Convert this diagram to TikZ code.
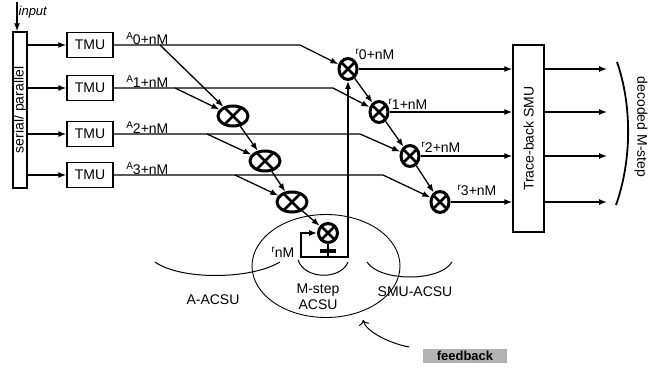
\documentclass[tikz,border=0pt]{standalone}
\usepackage{fontspec}
\setmainfont{Liberation Sans}
\usetikzlibrary{shapes.geometric,arrows.meta,calc}
\newcommand{\sublab}[2]{\raisebox{5pt}{\fontsize{10}{10}\selectfont #1}#2}

\begin{document}
\begin{tikzpicture}[x=1pt, y=-1pt, font=\fontsize{14}{16}\selectfont, line width=1.3pt,
  arr/.style={-{Latex[length=8pt,width=6pt]}},
  unit/.style={draw, inner sep=0pt},
  mult/.style={ellipse, draw, line width=3pt, inner sep=0pt, minimum width=30pt, minimum height=20pt,
    path picture={\draw[line width=2.6pt] (path picture bounding box.center) +(-10,-10) -- +(10,10)
      (path picture bounding box.center) +(-10,10) -- +(10,-10);}},
  rmult/.style={mult, minimum width=18pt, minimum height=21pt}]
\useasboundingbox (0,0) rectangle (659,369);

% ACSU regions
\node[draw, ellipse, line width=0.9pt, minimum width=148pt, minimum height=103pt] (acsu) at (326,266) {};
\draw[line width=1pt] (155,262) .. controls (180,280) and (250,280) .. (280,262);
\draw[line width=1pt] (298,260) .. controls (305,280) and (341,280) .. (348,262);
\draw[line width=1pt] (367,262) .. controls (380,282) and (440,282) .. (452,262);
\node (laacsu) at (213,300) {A-ACSU};
\node[align=center, font=\fontsize{14}{16}\selectfont] (lmacsu) at (318,297) {M-step\\ACSU};
\node (lsacsu) at (415,292) {SMU-ACSU};

% input side
\node[unit, minimum width=14pt, minimum height=156pt] (sp) at (20,110) {\rotatebox{90}{serial/ parallel}};
\node[font=\fontsize{13}{15}\selectfont\itshape, anchor=west, inner sep=0pt] (inp) at (18,12) {input};
\coordinate (inx) at (17,2);
\draw[arr] (inx) -- (inx |- sp.north);

\node[unit, minimum width=46pt, minimum height=25pt] (tmu0) at (90,45) {TMU};
\node[unit, minimum width=46pt, minimum height=25pt] (tmu1) at (90,88) {TMU};
\node[unit, minimum width=46pt, minimum height=25pt] (tmu2) at (90,134) {TMU};
\node[unit, minimum width=46pt, minimum height=25pt] (tmu3) at (90,175) {TMU};
\foreach \i in {0,...,3} {
  \draw[arr] (sp.east |- tmu\i) -- (tmu\i);
  \node[anchor=south west, inner sep=0pt] (la\i) at ([xshift=12pt]tmu\i.east) {\sublab{A}{\i+nM}};
}

% multipliers
\node[mult] (m1) at (233,116) {};
\node[mult] (m2) at (265,161) {};
\node[mult] (m3) at (292,202) {};
\node[mult, minimum width=19pt, minimum height=19pt] (m4) at (328,233) {};
\node[rmult] (r0) at (348,69) {};
\node[rmult] (r1) at (379,112) {};
\node[rmult] (r2) at (410,156) {};
\node[rmult] (r3) at (440,202) {};

\coordinate (a0) at (160,45);
\coordinate (a1) at (175,88);
\coordinate (a2) at (207,134);
\coordinate (a3) at (235,175);

\draw[arr] (tmu0) -- (300,45) -- (r0);
\draw[arr] (tmu1) -- (333,88) -- (r1);
\draw[arr] (tmu2) -- (360,134) -- (r2);
\draw[arr] (tmu3) -- (383,175) -- (r3);

\draw[arr] (a0) -- (m1);
\draw[arr] (a1) -- (m1);
\draw[arr] (m1) -- (m2);
\draw[arr] (a2) -- (m2);
\draw[arr] (m2) -- (m3);
\draw[arr] (a3) -- (m3);
\draw[arr] (m3) -- (m4);

\draw[arr] (r0) -- (r1);
\draw[arr] (r1) -- (r2);
\draw[arr] (r2) -- (r3);

\node[anchor=south west, inner sep=0pt] (lr0) at (355,60) {\sublab{r}{0+nM}};
\node[anchor=south west, inner sep=0pt] (lr1) at (388,110) {\sublab{r}{1+nM}};
\node[anchor=south west, inner sep=0pt] (lr2) at (421,153) {\sublab{r}{2+nM}};
\node[anchor=south west, inner sep=0pt] (lr3) at (457,196) {\sublab{r}{3+nM}};

% M-step loop
\coordinate (reg) at (328,257);
\coordinate (fbl) at (301,233);
\draw (m4) -- (reg);
\node[fill, minimum width=16pt, minimum height=4pt, inner sep=0pt] (dly) at (328,251) {};
\draw[arr] (reg) -| (fbl) -- (m4);
\draw[arr] (reg) -| (r0);
\node[anchor=south east, inner sep=0pt] (lrn) at (295,258) {\sublab{r}{nM}};

% trace-back
\node[unit, minimum width=31pt, minimum height=187pt] (tb) at (528.5,138.5) {\rotatebox{90}{Trace-back SMU}};
\coordinate (outx) at (607,0);
\foreach \i in {0,...,3} {
  \draw[arr] (r\i) -- (r\i -| tb.west);
  \draw[arr] (tb.east |- r\i) -- (outx |- r\i);
}
\draw[line width=1.8pt] (617,62) .. controls (632,105) and (632,160) .. (616,205);
\node (dec) at (641,127) {\rotatebox{-90}{decoded M-step}};

% feedback
\node[fill=gray!60, minimum width=84pt, minimum height=14pt, inner sep=0pt,
  font=\fontsize{13}{14}\selectfont\bfseries] (fb) at (465,356) {feedback};
\coordinate (fbtip) at (363,320);
\draw[line width=1pt, -{To[length=5pt]}] ([xshift=-13pt,yshift=9pt]fb.west) .. controls +(-18,-3) and +(3,12) .. (fbtip);
\end{tikzpicture}
\end{document}
